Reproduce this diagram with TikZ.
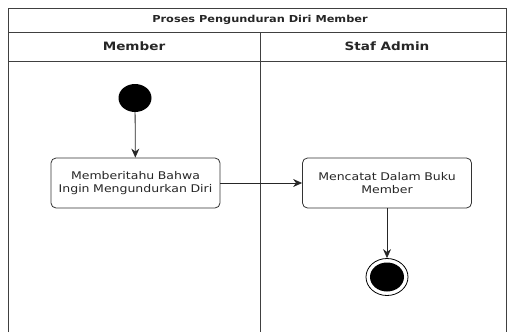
\documentclass[tikz,border=0pt]{standalone}
\usepackage{fontspec}
\setmainfont[FakeStretch=1.18]{DejaVu Sans}
\usetikzlibrary{arrows.meta,shapes.geometric}
\begin{document}
\begin{tikzpicture}[x=1pt,y=-1pt,
  frame/.style={draw=black!75,line width=0.9pt},
  action/.style={draw=black!80,line width=0.8pt,rounded corners=5pt,minimum width=169pt,minimum height=50pt,text width=165pt,align=center,font=\fontsize{10.6}{13.5}\selectfont,inner sep=1pt,text=black!85},
  flow/.style={draw=black!85,line width=0.8pt,-{Stealth[length=9pt,width=8pt]}}]
\useasboundingbox (0,0) rectangle (508,332);
% swimlane frame
\draw[frame] (8,332) -- (8,8) -- (506,8) -- (506,332);
\draw[frame] (8,32) -- (506,32);
\draw[frame] (8,61) -- (506,61);
\draw[frame] (260,32) -- (260,332);
\node[font=\fontsize{9.6}{11}\selectfont\bfseries,text=black!85] (title) at (260,20) {Proses Pengunduran Diri Member};
\node[font=\fontsize{11.5}{13}\selectfont\bfseries,text=black!85] (h1) at (134,46) {Member};
\node[font=\fontsize{11.5}{13}\selectfont\bfseries,text=black!85] (h2) at (387,46) {Staf Admin};
% nodes
\node[ellipse,fill=black,minimum width=33pt,minimum height=28pt,inner sep=0pt] (start) at (135,98) {};
\node[action] (a1) at (135.5,183) {Memberitahu Bahwa\\Ingin Mengundurkan Diri};
\node[action] (a2) at (387,183) {Mencatat Dalam Buku\\Member};
\node[ellipse,draw=black,line width=0.8pt,minimum width=42pt,minimum height=37pt,inner sep=0pt] (end) at (387,277) {};
\node[ellipse,fill=black,minimum width=34pt,minimum height=29pt,inner sep=0pt] (endin) at (end) {};
% connectors
\draw[flow] (start) -- (a1);
\draw[flow] (a1.east) -- (a2.west);
\draw[flow] (a2) -- (end);
\end{tikzpicture}
\end{document}
